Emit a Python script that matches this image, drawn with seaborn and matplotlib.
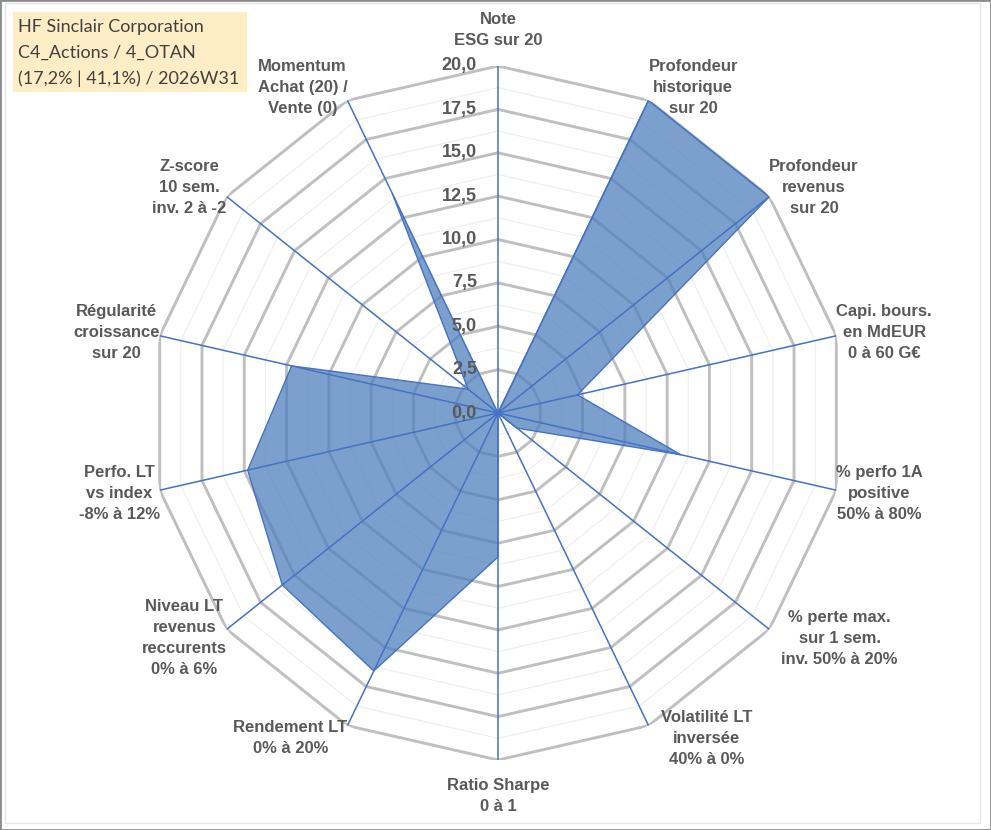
import numpy as np
import matplotlib
matplotlib.use("Agg")
import matplotlib.pyplot as plt
from matplotlib.patches import Rectangle
import seaborn as sns

# Axis labels (clockwise from the top) and scores out of 20
labels = [
    "Note\nESG sur 20",
    "Profondeur\nhistorique\nsur 20",
    "Profondeur\nrevenus\nsur 20",
    "Capi. bours.\nen MdEUR\n0 à 60 G€",
    "% perfo 1A\npositive\n50% à 80%",
    "% perte max.\nsur 1 sem.\ninv. 50% à 20%",
    "Volatilité LT\ninversée\n40% à 0%",
    "Ratio Sharpe\n0 à 1",
    "Rendement LT\n0% à 20%",
    "Niveau LT\nrevenus\nreccurents\n0% à 6%",
    "Perfo. LT\nvs index\n-8% à 12%",
    "Régularité\ncroissance\nsur 20",
    "Z-score\n10 sem.\ninv. 2 à -2",
    "Momentum\nAchat (20) /\nVente (0)",
]
scores = [0, 20, 20, 4.7, 10.8, 1.4, 0, 8.3, 16.5, 15.9, 14.8, 12.2, 2.2, 14.0]
levels = [1.25, 2.5, 3.75, 5.0, 6.25, 7.5, 8.75, 10.0, 11.25, 12.5,
          13.75, 15.0, 16.25, 17.5, 18.75, 20.0]
tick_levels = [0.0, 2.5, 5.0, 7.5, 10.0, 12.5, 15.0, 17.5, 20.0]
title_lines = ["HF Sinclair Corporation", "C4_Actions / 4_OTAN",
               "(17,2% | 41,1%) / 2026W31"]

sns.set_theme(style="white")
plt.rcParams["font.family"] = ["Liberation Sans", "DejaVu Sans"]

text_col = "#595959"
blue = "#4472C4"

n = len(labels)
theta = np.linspace(0, 2 * np.pi, n, endpoint=False)
theta_c = np.append(theta, theta[0])
scores_c = np.append(scores, scores[0])

fig = plt.figure(figsize=(9.91, 8.30), dpi=100)
W, H = 991, 830
R = 347
cx, cy = 498, 413
ax = fig.add_axes([(cx - R) / W, (H - cy - R) / H, 2 * R / W, 2 * R / H],
                  projection="polar")
ax.set_theta_zero_location("N")
ax.set_theta_direction(-1)
ax.set_ylim(0, 20)
ax.set_xticks([])
ax.set_yticks([])
ax.grid(False)
ax.spines["polar"].set_visible(False)
ax.patch.set_alpha(0)

# polygon grid rings
for lv in levels:
    major = abs(lv / 2.5 - round(lv / 2.5)) < 1e-6
    ax.plot(theta_c, [lv] * (n + 1),
            color="#BFBFBF" if major else "#EEEEEE",
            lw=2.1 if major else 0.8, zorder=1, solid_joinstyle="miter")

# filled series
ax.fill(theta_c, scores_c, color="#4F81BD", alpha=0.75, lw=0, zorder=2)
sns.lineplot(x=theta_c, y=scores_c, sort=False, ax=ax, color=blue, lw=1.0,
             zorder=3)

# spokes
for t in theta:
    ax.plot([t, t], [0, 20], color=blue, lw=1.1, zorder=4)

# value ticks along the top axis
for lv in tick_levels:
    ax.annotate(f"{lv:.1f}".replace(".", ","), xy=(0, lv),
                xytext=(-21, 0), textcoords="offset pixels",
                ha="right", va="center", fontsize=13, fontweight="bold",
                color=text_col, zorder=5)

# axis labels
for t, lab in zip(theta, labels):
    s, c = np.sin(t), np.cos(t)
    if abs(s) < 0.05:
        ha = "center"
        va = "bottom" if c > 0 else "top"
        off = (0, 18 if c > 0 else -18)
    else:
        ha = "left" if s > 0 else "right"
        va = "center"
        dx = 0
        if s > 0 and c < -0.3:
            dx = 12
        off = (dx, c * 14)
    ax.annotate(lab, xy=(t, 20), xytext=off, textcoords="offset pixels",
                ha=ha, va=va, multialignment="center", fontsize=12,
                fontweight="bold", color=text_col, linespacing=1.5,
                annotation_clip=False)

# title box
fig.add_artist(Rectangle((13 / W, 1 - 92 / H), 234 / W, 80 / H,
                         transform=fig.transFigure, facecolor="#FFEDC6",
                         edgecolor="none", zorder=0))
for k, line in enumerate(title_lines):
    fig.text(18 / W, 1 - (27 + 26 * k) / H, line, ha="left", va="center",
             fontsize=13, color="#404040", family=["Lato", "DejaVu Sans"])

# chart frames
fig.add_artist(Rectangle((5 / W, 7 / H), 975 / W, 820 / H,
                         transform=fig.transFigure, facecolor="none",
                         edgecolor="#E6E6E6", lw=1.0))
fig.add_artist(Rectangle((0, 0), 1, 1, transform=fig.transFigure,
                         facecolor="none", edgecolor="#8C8C8C", lw=2.0))

fig.savefig("out.png", dpi=100, facecolor="white")
